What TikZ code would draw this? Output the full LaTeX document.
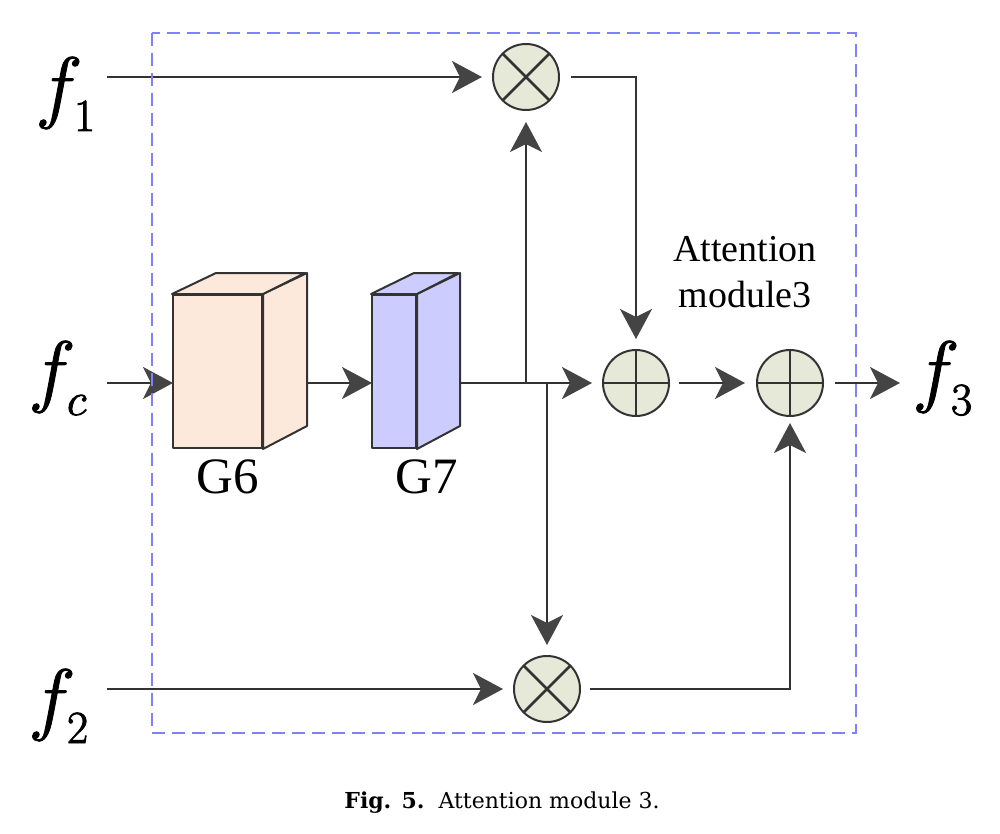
\RequirePackage{fix-cm}
\documentclass[tikz,border=0pt]{standalone}
\usepackage{fontspec}
\setmainfont{Liberation Serif}
\newfontfamily\capfont{DejaVu Serif}
\usetikzlibrary{arrows.meta}
\DeclareMathSizes{40}{40}{23}{18}
\definecolor{ln}{HTML}{333333}
\definecolor{ah}{HTML}{444444}
\definecolor{circ}{HTML}{E6E9D8}
\definecolor{peach}{HTML}{FCE9DC}
\definecolor{lav}{HTML}{CCCCFF}
\definecolor{dashc}{HTML}{8080F8}
\newcommand\flab[1]{\special{pdf:literal direct 2 Tr 0.45 w}$f_{\lower3pt\hbox{$\scriptstyle #1$}}$\special{pdf:literal direct 0 Tr}}
\begin{document}
\begin{tikzpicture}[x=0.5pt,y=-0.5pt,
  conn/.style={line width=1pt, draw=ln, -{Stealth[length=15pt,width=16pt,inset=4pt,color=ah]}},
  opnode/.style={circle, draw=ln, line width=1pt, fill=circ, minimum size=33pt, inner sep=0pt},
  timesop/.style={opnode, path picture={\draw[line width=1.4pt, ln]
      (path picture bounding box.north west) -- (path picture bounding box.south east)
      (path picture bounding box.north east) -- (path picture bounding box.south west);}},
  plusop/.style={opnode, path picture={\draw[line width=1.4pt, ln]
      (path picture bounding box.north) -- (path picture bounding box.south)
      (path picture bounding box.east) -- (path picture bounding box.west);}},
  face/.style={draw=ln, line width=1pt, line join=round},
  blockfront/.style={rectangle, face, minimum width=44.5pt, minimum height=76.5pt, inner sep=0pt},
  thinfront/.style={rectangle, face, minimum width=22pt, minimum height=76.5pt, inner sep=0pt},
  flabel/.style={anchor=base west, inner sep=0pt, font=\fontsize{40}{42}\selectfont},
  glabel/.style={inner sep=0pt, font=\fontsize{25.5}{28}\selectfont},
  alabel/.style={anchor=base, inner sep=0pt, font=\fontsize{19}{22}\selectfont},
  framebox/.style={draw=dashc, line width=1pt, dash pattern=on 6.5pt off 3.5pt}
]
\useasboundingbox (0,0) rectangle (1000,834);
\fill[white] (0,0) rectangle (1000,834);

% operators
\node[timesop] (O1) at (526,77) {};
\node[timesop] (O2) at (547,689) {};
\node[plusop] (A1) at (636,383) {};
\node[plusop] (A2) at (790,383) {};

% G6 block
\node[blockfront, fill=peach] (g6) at (217.5,371.5) {};
\filldraw[face, fill=peach] (g6.north east) -- ++(44,-21) -- ++(0,153) -- (g6.south east) -- cycle;
\filldraw[face, fill=peach] (g6.north west) -- ++(44,-21) -- ++(89,0) -- (g6.north east) -- cycle;
% G7 block
\node[thinfront, fill=lav] (g7) at (394,371.5) {};
\filldraw[face, fill=lav] (g7.north east) -- ++(43,-21) -- ++(0,153) -- (g7.south east) -- cycle;
\filldraw[face, fill=lav] (g7.north west) -- ++(43,-21) -- ++(44,0) -- (g7.north east) -- cycle;

% labels
\node[flabel] (f1) at (35,113) {\flab{1}};
\node[flabel] (fc) at (28,397) {\flab{c}};
\node[flabel] (f2) at (28,725) {\flab{2}};
\node[flabel] (f3) at (912,397) {\flab{3}};
\node[glabel] (lg6) at (228,477) {G6};
\node[glabel] (lg7) at (426.5,477) {G7};
\node[alabel] (att1) at (745,262) {Attention};
\node[alabel] (att2) at (745,307) {module3};
\node[anchor=base, inner sep=0pt] (cap) at (502,808) {\capfont\fontsize{11}{13}\selectfont\textbf{Fig. 5.}\ \ Attention module 3.};

% coordinates
\coordinate (f1s) at (107,77);
\coordinate (f2s) at (107,689);
\coordinate (fcs) at (107,383);
\coordinate (g6in) at (173,383);
\coordinate (g6out) at (306,383);
\coordinate (g7in) at (372,383);
\coordinate (g7out) at (459,383);
\coordinate (J1) at (526,383);
\coordinate (J2) at (547,383);
\coordinate (f3in) at (900,383);

% connectors
\draw[conn] (fcs) -- (g6in);
\draw[conn] (g6out) -- (g7in);
\draw[conn, shorten >=5pt] (g7out) -- (A1);
\draw[conn, shorten >=5.5pt] (J1) -- (O1);
\draw[conn, shorten >=5pt] (J2) -- (O2);
\draw[conn, shorten >=5pt] (f1s) -- (O1);
\draw[conn, shorten >=5pt] (f2s) -- (O2);
\draw[conn, shorten <=5.5pt, shorten >=5pt] (O1) -| (A1);
\draw[conn, shorten <=4.5pt, shorten >=3pt] (O2) -| (A2);
\draw[conn, shorten <=4.5pt, shorten >=5.5pt] (A1) -- (A2);
\draw[conn, shorten <=5.5pt] (A2) -- (f3in);

% dashed frame
\draw[framebox] (152,33) rectangle (856,733);
\end{tikzpicture}
\end{document}
